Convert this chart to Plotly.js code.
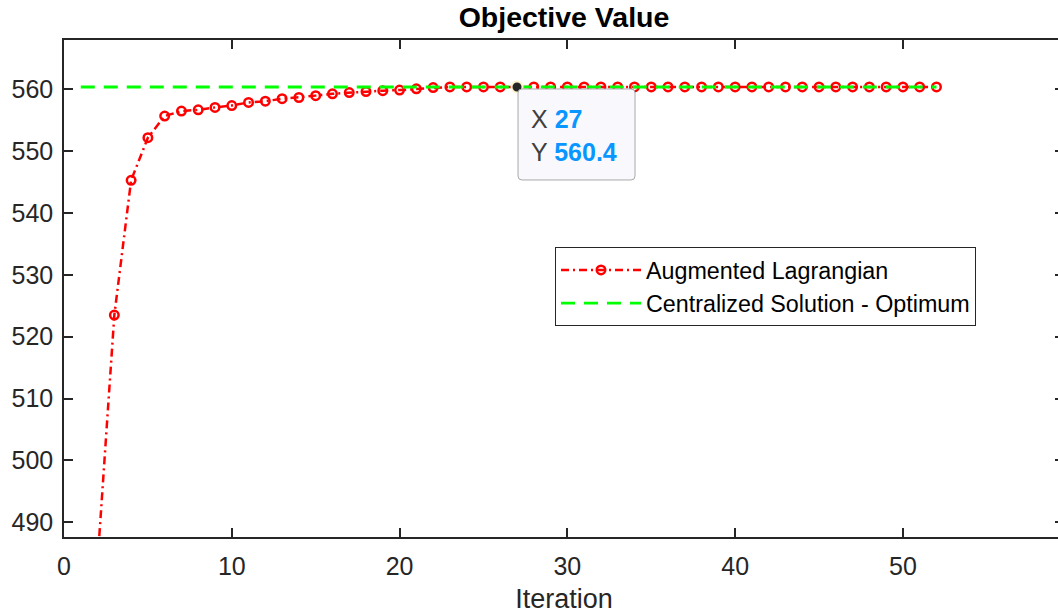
<!DOCTYPE html>
<html>
<head>
<meta charset="utf-8">
<script src="https://cdn.plot.ly/plotly-3.0.1.min.js"></script>
<style>
html, body { margin: 0; padding: 0; overflow: hidden; background: #fff; }
#chart { width: 1070px; height: 616px; }
</style>
</head>
<body>
<div id="chart"></div>
<script>
// ---- data ----
const iterations = [1,2,3,4,5,6,7,8,9,10,11,12,13,14,15,16,17,18,19,20,21,22,23,24,25,26,27,28,29,30,31,32,33,34,35,36,37,38,39,40,41,42,43,44,45,46,47,48,49,50,51,52];
const augmentedLagrangian = [450.0,483.6,523.5,545.3,552.2,555.7,556.5,556.7,557.1,557.4,557.9,558.1,558.5,558.7,559.0,559.3,559.5,559.65,559.8,559.9,560.1,560.3,560.4,560.4,560.4,560.4,560.4,560.4,560.4,560.4,560.4,560.4,560.4,560.4,560.4,560.4,560.4,560.4,560.4,560.4,560.4,560.4,560.4,560.4,560.4,560.4,560.4,560.4,560.4,560.4,560.4,560.4];
const optimumX = [1, 52];
const optimumY = [560.4, 560.4];
const tipX = [27];
const tipY = [560.4];
const xTicks = [0,10,20,30,40,50];
const yTicks = [490,500,510,520,530,540,550,560];
const seriesNames = ['Augmented Lagrangian', 'Centralized Solution - Optimum'];

const FONT = 'Liberation Sans, Arial, Helvetica, sans-serif';
const INK = '#262626';
const TIPBLUE = '#0a96ff';

const traces = [
  {
    x: iterations, y: augmentedLagrangian, name: seriesNames[0],
    mode: 'lines+markers', type: 'scatter',
    line: {color: '#ff0000', width: 2.5, dash: '8px,4px,2px,4px'},
    marker: {symbol: 'circle-open', size: 8.5, color: '#ff0000', line: {width: 2.5, color: '#ff0000'}},
    cliponaxis: true
  },
  {
    x: optimumX, y: optimumY, name: seriesNames[1],
    mode: 'lines', type: 'scatter',
    line: {color: '#00ff00', width: 2.8, dash: '14px,9px'}
  },
  {
    x: tipX, y: tipY, mode: 'markers', type: 'scatter', showlegend: false,
    marker: {symbol: 'circle', size: 11, color: '#262626', line: {width: 2, color: '#fdf3cf'}}
  }
];

const axisCommon = {
  showline: true, linecolor: INK, linewidth: 1.5, mirror: 'allticks',
  ticks: 'inside', ticklen: 9, tickwidth: 1.5, tickcolor: INK,
  showgrid: false, zeroline: false,
  tickfont: {family: FONT, size: 25, color: INK}
};

// rounded box path (pixel coords relative to the data tip, y positive up)
const bx0 = 1, bx1 = 118, by0 = -2, by1 = -93, rr = 4;
const boxPath = 'M ' + (bx0 + rr) + ',' + by0 +
  ' L ' + (bx1 - rr) + ',' + by0 + ' Q ' + bx1 + ',' + by0 + ' ' + bx1 + ',' + (by0 - rr) +
  ' L ' + bx1 + ',' + (by1 + rr) + ' Q ' + bx1 + ',' + by1 + ' ' + (bx1 - rr) + ',' + by1 +
  ' L ' + (bx0 + rr) + ',' + by1 + ' Q ' + bx0 + ',' + by1 + ' ' + bx0 + ',' + (by1 + rr) +
  ' L ' + bx0 + ',' + (by0 - rr) + ' Q ' + bx0 + ',' + by0 + ' ' + (bx0 + rr) + ',' + by0 + ' Z';

const layout = {
  width: 1070, height: 616,
  margin: {l: 64, r: 6, t: 40, b: 79},
  paper_bgcolor: '#ffffff', plot_bgcolor: '#ffffff',
  font: {family: FONT, color: INK},
  showlegend: true,
  title: {
    text: 'Objective Value', x: 0.5, xref: 'paper', xanchor: 'center',
    y: 0.972, yref: 'container', yanchor: 'middle',
    font: {family: FONT, size: 28.5, weight: 'bold', color: '#000000'}
  },
  xaxis: Object.assign({}, axisCommon, {
    range: [0, 59.6], tickvals: xTicks, ticktext: xTicks.map(String),
    ticklabelstandoff: 6,
    title: {text: 'Iteration', font: {family: FONT, size: 27, color: INK}, standoff: 10}
  }),
  yaxis: Object.assign({}, axisCommon, {
    range: [487.6, 568], tickvals: yTicks, ticktext: yTicks.map(String),
    ticklabelstandoff: 4
  }),
  legend: {
    x: 0.491, y: 0.583, xanchor: 'left', yanchor: 'top',
    bgcolor: '#ffffff', bordercolor: INK, borderwidth: 1,
    font: {family: FONT, size: 23.3, color: '#000000'},
    itemwidth: 80, tracegroupgap: 0
  },
  shapes: [{
    type: 'path', layer: 'above',
    xref: 'x', yref: 'y', xsizemode: 'pixel', ysizemode: 'pixel',
    xanchor: tipX[0], yanchor: tipY[0],
    path: boxPath,
    fillcolor: '#f9f9fd', line: {color: '#a9a9a9', width: 1}
  }],
  annotations: [
    {
      x: tipX[0], y: tipY[0], xref: 'x', yref: 'y',
      xanchor: 'left', yanchor: 'middle', xshift: 12, yshift: -32,
      showarrow: false, align: 'left',
      font: {family: FONT, size: 25, color: '#404040'},
      text: 'X <span style="color:' + TIPBLUE + '"><b>' + tipX[0] + '</b></span>'
    },
    {
      x: tipX[0], y: tipY[0], xref: 'x', yref: 'y',
      xanchor: 'left', yanchor: 'middle', xshift: 12, yshift: -65,
      showarrow: false, align: 'left',
      font: {family: FONT, size: 25, color: '#404040'},
      text: 'Y <span style="color:' + TIPBLUE + '"><b>' + tipY[0].toFixed(1) + '</b></span>'
    }
  ]
};

Plotly.newPlot('chart', traces, layout, {displayModeBar: false, responsive: false});
</script>
</body>
</html>
